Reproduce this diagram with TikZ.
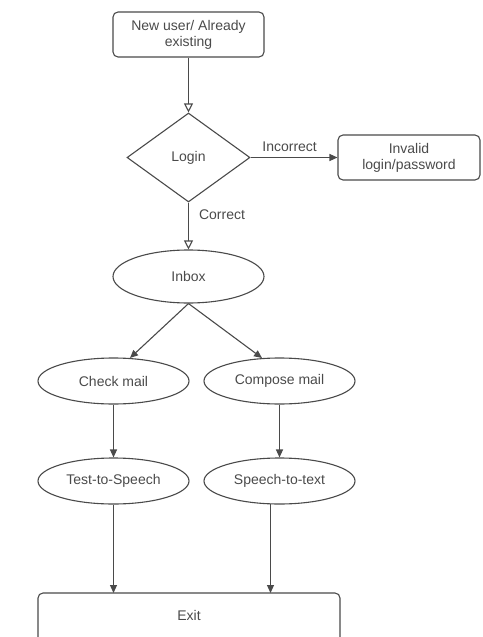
\documentclass[tikz,border=0pt]{standalone}
\usepackage{fontspec}
\setmainfont{Liberation Sans}
\usetikzlibrary{shapes.geometric,arrows.meta}
\definecolor{ln}{HTML}{4A4A4A}
\definecolor{tx}{HTML}{4A4A4A}
\tikzset{
  base/.style={draw=ln, line width=1.1pt, text=tx, font=\fontsize{14}{16}\selectfont, inner sep=0pt, align=center},
  rbox/.style={base, rectangle, rounded corners=5pt},
  oval/.style={base, ellipse, minimum width=151pt, minimum height=46pt},
  dia/.style={base, diamond, minimum width=123pt, minimum height=89pt, aspect=1.4},
  openarr/.style={draw=ln, line width=1.1pt, -{Triangle[open, length=9pt, width=9pt, fill=white]}},
  fillarr/.style={draw=ln, line width=1.1pt, -{Triangle[length=8pt, width=7pt]}},
  lbl/.style={text=tx, font=\fontsize{14}{16}\selectfont, inner sep=0pt}
}
\begin{document}
\begin{tikzpicture}[x=1pt,y=-1pt]
\useasboundingbox (0,0) rectangle (482,637);
\clip (0,0) rectangle (482,637);
\node[rbox, minimum width=151pt, minimum height=45pt] (new) at (188.5,34.5) {New user/ Already\\existing};
\node[dia] (login) at (188.5,157.5) {Login};
\node[rbox, minimum width=142pt, minimum height=45pt] (inv) at (409,157.5) {Invalid\\login/password};
\node[oval, minimum height=53pt] (inbox) at (188.5,276.5) {Inbox};
\node[oval] (check) at (113.5,381) {Check mail};
\node[oval] (compose) at (279.5,381) {Compose mail};
\node[oval] (tts) at (113.5,481) {Test-to-Speech};
\node[oval] (stt) at (279.5,481) {Speech-to-text};
\node[rbox, minimum width=302pt, minimum height=90pt] (exit) at (189,638) {};
\node[lbl] (exitlbl) at (189,615) {Exit};
\draw[openarr] (new.south) -- (login.north);
\draw[fillarr] (login.east) -- node[lbl, above=5pt, pos=0.45] (inc) {Incorrect} (inv.west);
\draw[openarr] (login.south) -- node[lbl, right=10pt, pos=0.25] (cor) {Correct} (inbox.north);
\coordinate (ib) at (inbox.south);
\coordinate (ct) at (130,358);
\coordinate (cpt) at (262,358);
\draw[fillarr] (ib) -- (ct);
\draw[fillarr] (ib) -- (cpt);
\draw[fillarr] (check.south) -- (tts.north);
\draw[fillarr] (compose.south) -- (stt.north);
\coordinate (e1) at (113.5,593);
\coordinate (e2) at (270.5,593);
\coordinate (s1) at (270.5,503.5);
\draw[fillarr] (tts.south) -- (e1);
\draw[fillarr] (s1) -- (e2);
\end{tikzpicture}
\end{document}
